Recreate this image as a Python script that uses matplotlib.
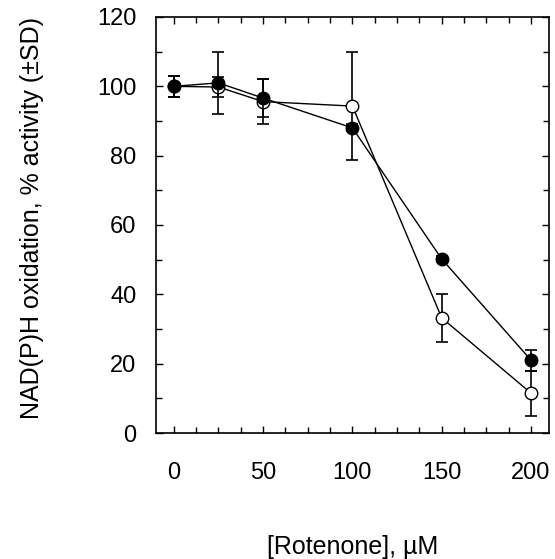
import matplotlib
matplotlib.use("Agg")
import matplotlib.pyplot as plt
from matplotlib.ticker import MultipleLocator

plt.rcParams['font.family'] = ['Liberation Sans', 'DejaVu Sans']

# rotenone concentrations (uM)
conc = [0, 25, 50, 100, 150, 200]

# filled circles
filled = [100, 101, 96.6, 88, 50.2, 21]
filled_sd = [3, 9, 5.5, 1, 0.8, 3]

# open circles
opened = [100, 99.8, 95.6, 94.3, 33.2, 11.5]
opened_sd = [3, 3, 6.5, 15.5, 7, 6.5]

fig = plt.figure(figsize=(5.55, 5.59), dpi=100)
ax = fig.add_axes([0.281, 0.2254, 0.708, 0.7442])

ax.errorbar(conc, opened, yerr=opened_sd, fmt='-o', color='black', mfc='white',
            mec='black', ms=9, lw=1, elinewidth=1.2, capsize=4.5, capthick=1.2, zorder=2)
ax.errorbar(conc, filled, yerr=filled_sd, fmt='-o', color='black', mfc='black',
            mec='black', ms=9, lw=1, elinewidth=1.2, capsize=4.5, capthick=1.2, zorder=3)

ax.set_xlim(-10, 210)
ax.set_ylim(0, 120)
ax.xaxis.set_major_locator(MultipleLocator(50))
ax.xaxis.set_minor_locator(MultipleLocator(12.5))
ax.yaxis.set_major_locator(MultipleLocator(20))
ax.yaxis.set_minor_locator(MultipleLocator(10))

ax.tick_params(which='both', direction='in', top=True, right=True, width=1)
ax.tick_params(which='major', length=5)
ax.tick_params(which='minor', length=4)
ax.tick_params(axis='x', which='major', labelsize=17, pad=21)
ax.tick_params(axis='y', which='major', labelsize=17, pad=14)

for s in ax.spines.values():
    s.set_linewidth(1.2)

ax.set_xlabel('[Rotenone], µM', fontsize=18, va='top')
ax.xaxis.set_label_coords(0.5, -0.245)
ax.set_ylabel('NAD(P)H oxidation, % activity (±SD)', fontsize=18, va='center')
ax.yaxis.set_label_coords(-0.316, 0.517)

fig.savefig('out.png', dpi=100)
